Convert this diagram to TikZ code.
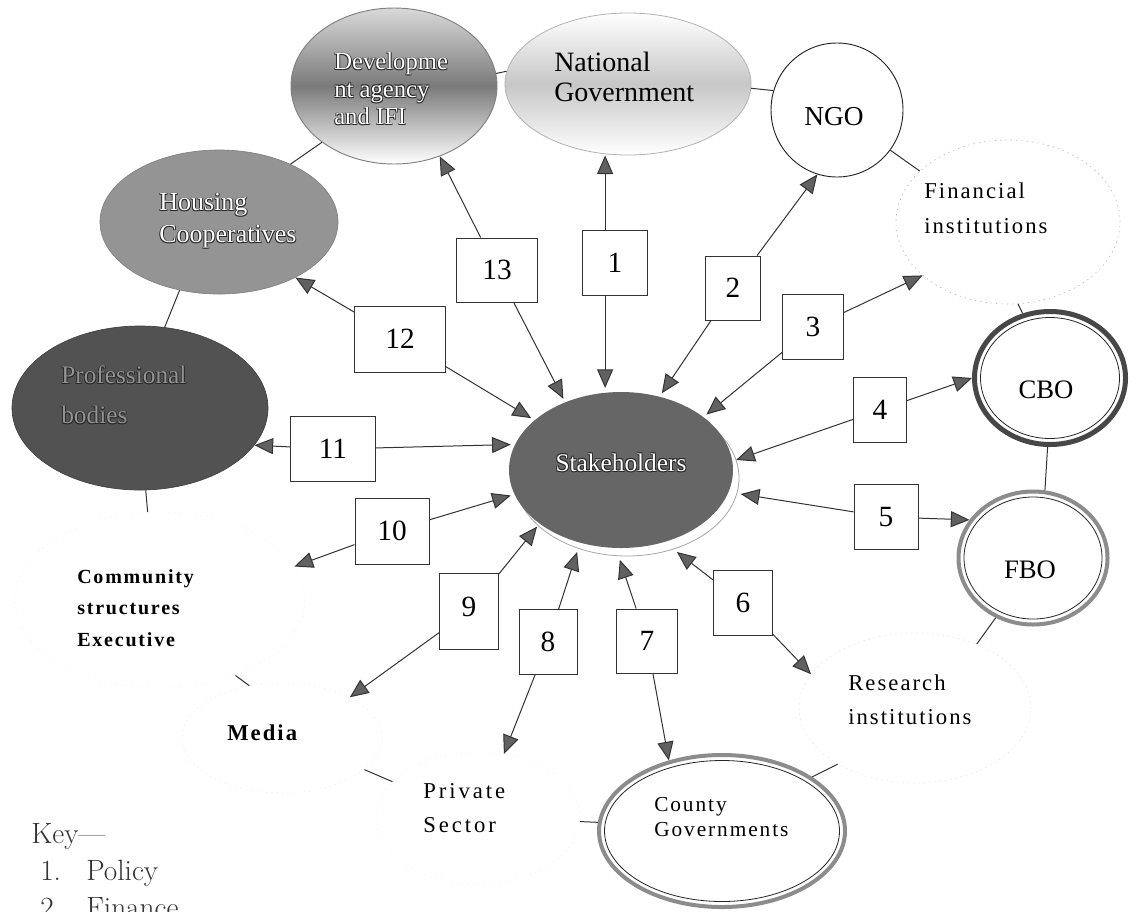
\documentclass[tikz,border=0pt]{standalone}
\usepackage{fontspec}
\usetikzlibrary{shapes.geometric,arrows.meta,calc}
\newfontfamily\tnr{Liberation Serif}
\newfontfamily\tnrs[LetterSpace=9]{Liberation Serif}
\newfontfamily\tnrss[LetterSpace=13]{Liberation Serif}
\newcommand\fs[2]{\fontsize{#1}{#2}\selectfont}
\newcommand\embtx[2][white]{\leavevmode
 \rlap{\kern-0.55pt\raisebox{0.55pt}{\color{black!85}#2}}%
 \rlap{\kern0.55pt\raisebox{0.55pt}{\color{black!85}#2}}%
 \rlap{\kern-0.55pt\raisebox{-0.55pt}{\color{black!85}#2}}%
 \rlap{\kern0.55pt\raisebox{-0.55pt}{\color{black!85}#2}}%
 {\color{#1}#2}}
\begin{document}
\begin{tikzpicture}[x=0.75pt,y=-0.75pt,
  ell/.style 2 args={ellipse, inner sep=0pt, minimum width=#1*0.75pt, minimum height=#2*0.75pt},
  numbox/.style 2 args={draw=black!80, line width=0.7pt, fill=white, inner sep=0pt,
     minimum width=#1*0.75pt, minimum height=#2*0.75pt, font=\tnr\fs{22}{24}},
  arr/.style={draw=black!80, line width=0.75pt, -{Triangle[length=14pt,width=12pt,fill=black!62]}},
  tk/.style={draw=black!80, line width=0.75pt},
  faint/.style={draw=black!#1, line width=0.5pt, dash pattern=on 1pt off 3pt},
  lbl/.style={anchor=west, align=left, inner sep=0pt},
  inner/.style={draw=black!85, line width=0.6pt}
]
\useasboundingbox (0,0) rectangle (1137,911);
\fill[white] (0,0) rectangle (1137,911);
\clip (0,0) rectangle (1137,911);

% ---------- outer ellipses ----------
\node[ell={206}{156}, draw=black!50, line width=0.7pt, top color=black!15, bottom color=white, middle color=black!52] (dev) at (394,86) {};
\node[ell={246}{142}, draw=black!30, line width=0.6pt, top color=white, bottom color=white, middle color=black!22] (natl) at (628,84) {};
\node[ell={132}{134}, draw=black!85, line width=0.7pt, fill=white] (ngo) at (837,110) {};
\node[ell={224}{164}, faint=28] (fin) at (1008,222) {};
\node[ell={151}{133}, draw=black!72, line width=3.75pt, fill=white] (cbo) at (1050,378) {};
\draw[inner] (cbo.center) ellipse [x radius=69.5, y radius=60.5];
\node[ell={149}{133}, draw=black!45, line width=3pt, fill=white] (fbo) at (1033,558) {};
\draw[inner] (fbo.center) ellipse [x radius=69, y radius=61];
\node[ell={232}{150}, faint=10] (res) at (915,708) {};
\node[ell={246}{152}, draw=black!45, line width=3pt, fill=white] (county) at (722,831) {};
\draw[inner] (county.center) ellipse [x radius=117.5, y radius=70.5];
\node[ell={204}{132}, faint=4] (priv) at (478,818) {};
\node[ell={200}{110}, faint=6] (media) at (282,738) {};
\node[ell={290}{176}, faint=4] (comm) at (160,600) {};
\node[ell={256}{164}, fill=black!68, draw=black!75, line width=0.5pt] (prof) at (140,408) {};
\node[ell={238}{144}, fill=black!42, draw=black!50, line width=0.5pt] (hous) at (219,222) {};

% ---------- centre ----------
\node[ell={224}{156}, fill=white, draw=black!35, line width=0.6pt, outer sep=3pt] (sts) at (627,478) {};
\node[ell={224}{156}, fill=black!60, outer sep=3pt] (st) at (621,470) {};

% ---------- texts ----------
\node[lbl, font=\tnr\fs{18.5}{20.6}] (devT) at (334,89) {\embtx{Developme}\\\embtx{nt agency}\\\embtx{and IFI}};
\node[lbl, font=\tnr\fs{21}{23}] (natlT) at (554,77) {National\\Government};
\node[font=\tnr\fs{20.5}{22}, inner sep=0pt] (ngoT) at (834,117) {NGO};
\node[lbl, font=\tnrs\fs{17}{26}] (finT) at (924,208) {Financial\\institutions};
\node[font=\tnr\fs{20}{22}, inner sep=0pt] (cboT) at (1046,390) {CBO};
\node[font=\tnr\fs{20}{22}, inner sep=0pt] (fboT) at (1030,570) {FBO};
\node[lbl, font=\tnrs\fs{17}{25.5}] (resT) at (848,700) {Research\\institutions};
\node[lbl, font=\tnrs\fs{16}{19}] (countyT) at (654,817) {County\\Governments};
\node[lbl, font=\tnrss\fs{17}{25}] (privT) at (423,808) {Private\\Sector};
\node[lbl, font=\tnrs\bfseries\fs{17}{20}] (mediaT) at (227,733) {Media};
\node[lbl, font=\tnrs\bfseries\fs{15}{23.6}] (commT) at (77,608) {Community\\structures\\Executive};
\node[lbl, font=\tnr\fs{19}{30}] (profT) at (61,395) {\embtx[black!42]{Professional}\\\embtx[black!42]{bodies}};
\node[lbl, font=\tnr\fs{19.5}{24}] (housT) at (159,221) {\embtx{Housing}\\\embtx{Cooperatives}};
\node[font=\tnr\fs{19}{21}, inner sep=0pt] (stT) at (621,463) {\embtx{Stakeholders}};

% ---------- ticks between outer nodes ----------
\draw[tk] (dev.7.8) -- (natl.174.5);
\draw[tk] (natl.-2) -- (ngo.163.5);
\draw[tk] (ngo.-37.9) -- (fin.150);
\draw[tk] (fin.-83) -- (cbo.113);
\draw[tk] (cbo.-92) -- (fbo.80);
\draw[tk] (fbo.-122) -- (res.46);
\draw[tk] (res.-144.8) -- (county.31.7);
\draw[tk] (county.176) -- (priv.-2);
\draw[tk] (priv.157.8) -- (media.-21);
\draw[tk] (media.122) -- (comm.-45.4);
\draw[tk] (comm.98) -- (prof.-86.6);
\draw[tk] (prof.73.9) -- (hous.-120.5);
\draw[tk] (hous.39.8) -- (dev.-142.4);

% ---------- number boxes ----------
\node[numbox={81}{64}] (b13) at (497,270) {13};
\node[numbox={65}{65}] (b1) at (615,263) {1};
\node[numbox={55}{64}] (b2) at (733,288) {2};
\node[numbox={61}{65}] (b3) at (813,327) {3};
\node[numbox={91}{66}] (b12) at (400,339) {12};
\node[numbox={53}{65}] (b4) at (880,410) {4};
\node[numbox={85}{65}] (b11) at (333,449) {11};
\node[numbox={64}{65}] (b5) at (886,517) {5};
\node[numbox={74}{66}] (b10) at (392,531) {10};
\node[numbox={59}{76}] (b9) at (469,611) {\raisebox{6pt}{9}};
\node[numbox={58}{65}] (b8) at (548,642) {8};
\node[numbox={61}{64}] (b7) at (647,641) {7};
\node[numbox={59}{65}] (b6) at (743,603) {6};

% ---------- arrows ----------
\coordinate (b1t) at ($(b1.north west)!0.35!(b1.north east)$);
\coordinate (b1b) at ($(b1.south west)!0.35!(b1.south east)$);
\draw[arr] (b1t) -- (b1t |- natl.south);
\draw[arr] (b1b) -- (b1b |- st.north);
\draw[arr] (b13) -- (dev.-57.5);
\draw[arr] (b13) -- (st.129.3);
\draw[arr] (b2) -- (ngo.-107.7);
\draw[arr] (b2) -- (st.62.3);
\draw[arr] (b3) -- (fin.-148);
\draw[arr] (b3) -- (st.33.2);
\draw[arr] (b12) -- (hous.-36.3);
\draw[arr] (b12) -- (st.150.3);
\draw[arr] (b4) -- (cbo.180);
\draw[arr] (b4) -- (st.5.8);
\draw[arr] (b11) -- (prof.-18.4);
\draw[arr] (b11) -- (st.167.7);
\draw[arr] (b5) -- (fbo.149);
\draw[arr] (b5) -- (sts.-8.6);
\draw[arr] (b10) -- (comm.14.7);
\draw[arr] (b10) -- (st.193.3);
\draw[arr] (b9) -- (media.31);
\draw[arr] (b9) -- (st.214.6);
\draw[arr] (b8) -- (priv.68.3);
\draw[arr] (b8) -- (sts.236.6);
\draw[arr] (b7) -- (county.127.6);
\draw[arr] (b7) -- (sts.265.5);
\draw[arr] (b6) -- (res.162);
\draw[arr] (b6) -- (sts.304.5);

% ---------- key ----------
\node[anchor=base west, inner sep=0pt, font=\fs{22}{24}, text=black!80] (key) at (31,843) {Key—};
\node[anchor=base west, inner sep=0pt, font=\fs{22}{24}, text=black!80] (k1n) at (40,880) {1.};
\node[anchor=base west, inner sep=0pt, font=\fs{22}{24}, text=black!80] (k1) at (86,880) {Policy};
\node[anchor=base west, inner sep=0pt, font=\fs{22}{24}, text=black!80] (k2n) at (40,917) {2.};
\node[anchor=base west, inner sep=0pt, font=\fs{22}{24}, text=black!80] (k2) at (86,917) {Finance};
\end{tikzpicture}
\end{document}
